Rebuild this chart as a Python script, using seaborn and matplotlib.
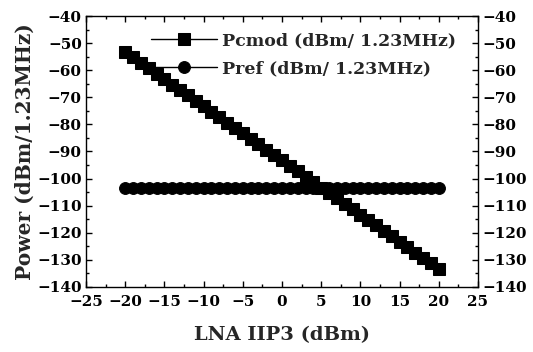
import numpy as np
import pandas as pd
import matplotlib
matplotlib.use("Agg")
import matplotlib.pyplot as plt
import seaborn as sns
from matplotlib.ticker import MultipleLocator

sns.set_theme(style="ticks")
plt.rcParams['font.family'] = ['DejaVu Serif']
plt.rcParams['font.weight'] = 'bold'

iip3 = [-20, -19, -18, -17, -16, -15, -14, -13, -12, -11, -10, -9, -8, -7, -6, -5, -4, -3, -2, -1,
        0, 1, 2, 3, 4, 5, 6, 7, 8, 9, 10, 11, 12, 13, 14, 15, 16, 17, 18, 19, 20]
pcmod = [-53.3, -55.3, -57.3, -59.3, -61.3, -63.3, -65.3, -67.3, -69.3, -71.3,
         -73.3, -75.3, -77.3, -79.3, -81.3, -83.3, -85.3, -87.3, -89.3, -91.3,
         -93.3, -95.3, -97.3, -99.3, -101.3, -103.3, -105.3, -107.3, -109.3, -111.3,
         -113.3, -115.3, -117.3, -119.3, -121.3, -123.3, -125.3, -127.3, -129.3, -131.3,
         -133.3]
pref = [-103.3] * 41
labels = ["Pcmod (dBm/ 1.23MHz)", "Pref (dBm/ 1.23MHz)"]

df = pd.DataFrame({"x": iip3 * 2, "y": pcmod + pref,
                   "s": [labels[0]] * 41 + [labels[1]] * 41})

fig = plt.figure(figsize=(5.33, 3.52), dpi=100)
ax = fig.add_axes([86/533, 1 - 287/352, (478-86)/533, (287-16)/352])

sns.lineplot(data=df, x="x", y="y", hue="s", style="s",
             palette=["black", "black"], markers=["s", "o"], dashes=False,
             markersize=8.5, linewidth=1.0, markeredgecolor="black",
             ax=ax)

ax.set_xlim(-25, 25)
ax.set_ylim(-140, -40)
ax.xaxis.set_major_locator(MultipleLocator(5))
ax.xaxis.set_minor_locator(MultipleLocator(2.5))
ax.yaxis.set_major_locator(MultipleLocator(10))
ax.yaxis.set_minor_locator(MultipleLocator(5))
ax.tick_params(which='both', direction='in', top=True, right=True,
               labelright=True, width=1.0, colors='black')
ax.tick_params(which='major', length=4, labelsize=11)
ax.tick_params(axis='x', which='major', pad=6)
ax.tick_params(axis='y', which='major', pad=3)
ax.tick_params(which='minor', length=2.5)
for lab in ax.get_xticklabels() + ax.get_yticklabels():
    lab.set_fontweight('bold')
for sp in ax.spines.values():
    sp.set_color('black')
    sp.set_linewidth(1.0)

ax.set_xlabel("LNA IIP3 (dBm)", fontsize=14, fontweight='bold', labelpad=12)
ax.set_ylabel("Power (dBm/1.23MHz)", fontsize=14.5, fontweight='bold', labelpad=2)

leg = ax.legend(loc='upper left', bbox_to_anchor=(0.165, 0.94), frameon=False,
                fontsize=12.5, handlelength=3.8, handletextpad=0.3,
                borderaxespad=0, labelspacing=0.65, borderpad=0)
for t in leg.get_texts():
    t.set_fontweight('bold')

fig.savefig("out.png", dpi=100)
